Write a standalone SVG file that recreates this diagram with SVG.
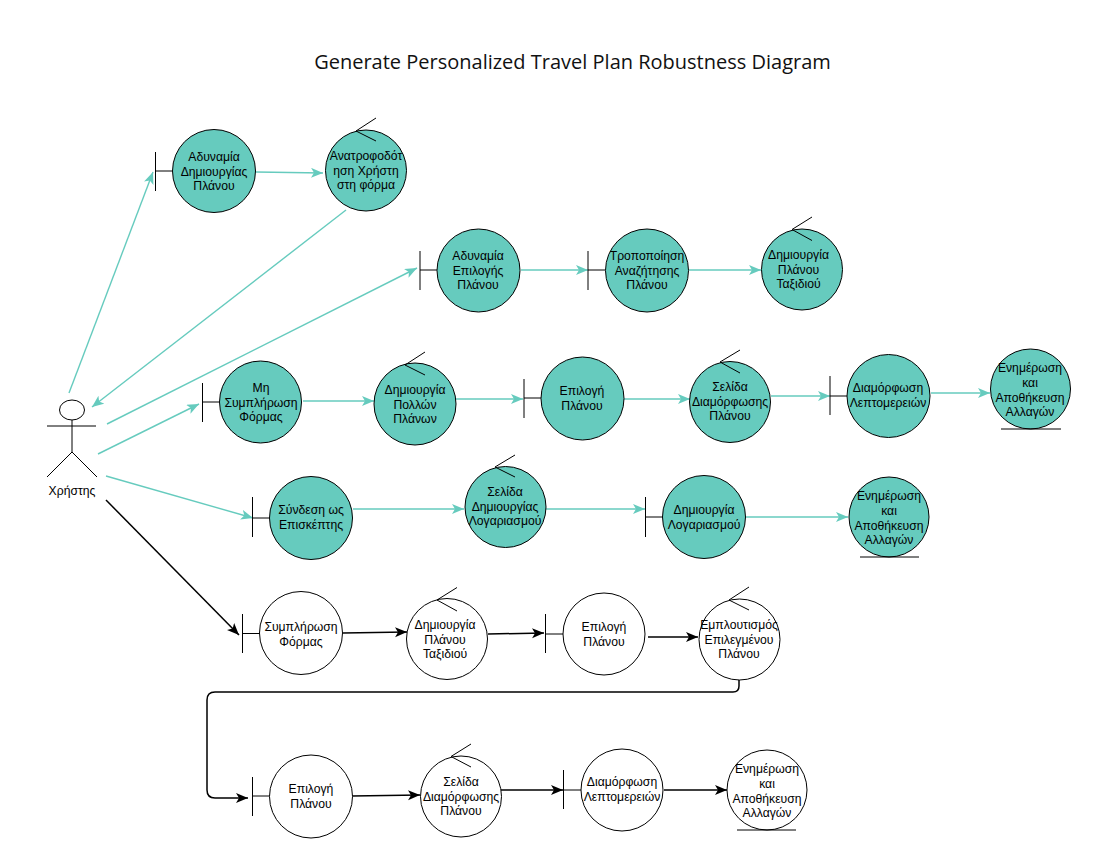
<svg xmlns="http://www.w3.org/2000/svg" width="1100" height="850" viewBox="0 0 1100 850">
<defs>
<style>
text{font-family:"Liberation Sans",Arial,sans-serif;font-size:12.2px;fill:#000;text-anchor:middle}
.title{font-family:"Open Sans","Noto Sans",sans-serif;font-size:20px;fill:#111}
.t{fill:#66cbbe;stroke:#000;stroke-width:1}
.w{fill:#fff;stroke:#000;stroke-width:1}
.m{stroke:#000;stroke-width:1;fill:none}
.ct{stroke:#66cbbe;stroke-width:1.4;fill:none;marker-end:url(#at)}
.cb{stroke:#000;stroke-width:1.5;fill:none;marker-end:url(#ab)}
</style>
<marker id="at" markerUnits="userSpaceOnUse" markerWidth="13" markerHeight="11" refX="12" refY="5" orient="auto"><path d="M12,5 L0,0 L3,5 L0,10 Z" fill="#66cbbe"/></marker>
<marker id="ab" markerUnits="userSpaceOnUse" markerWidth="13" markerHeight="11" refX="12" refY="5" orient="auto"><path d="M12,5 L0,0 L3,5 L0,10 Z" fill="#000"/></marker>
</defs>
<rect width="1100" height="850" fill="#fff"/>
<text class="title" x="572.500" y="69">Generate Personalized Travel Plan Robustness Diagram</text>
<g id="connectors">
<path class="ct" d="M69,393 L153,172"/>
<path class="ct" d="M346,210 L92,407"/>
<path class="ct" d="M107,424 L417,268"/>
<path class="ct" d="M98,454 L199,404"/>
<path class="ct" d="M106,476 L253,518"/>
<path class="ct" d="M256,172 L323,173"/>
<path class="ct" d="M521,270 L588,270"/>
<path class="ct" d="M689,270 L761,270"/>
<path class="ct" d="M303,401 L374,401"/>
<path class="ct" d="M456,399 L523,399"/>
<path class="ct" d="M624,399 L690,399"/>
<path class="ct" d="M771,396 L830,396"/>
<path class="ct" d="M931,393 L990,393"/>
<path class="ct" d="M353,509 L464,509"/>
<path class="ct" d="M546,509 L645,509"/>
<path class="ct" d="M746,517 L848,517"/>
<path class="cb" d="M106,500 L239,635"/>
<path class="cb" d="M343,633 L407,632"/>
<path class="cb" d="M488,634 L544,633"/>
<path class="cb" d="M648,637 L698,637"/>
<path class="cb" d="M739,680 L739,686 Q739,692 733,692 L215,692 Q207,692 207,700 L207,790 Q207,798 215,798 L248,798"/>
<path class="cb" d="M352,796 L420,795"/>
<path class="cb" d="M501,790 L563,790"/>
<path class="cb" d="M664,790 L727,790"/>
</g>
<g id="actor">
<ellipse class="m" cx="72" cy="410" rx="12.500" ry="10"/>
<path class="m" d="M47,426 H96 M72,420 V452 L47,477 M72,452 L97,477"/>
<text x="72" y="495">Χρήστης</text>
</g>
<g id="b1"><path class="m" d="M155.500,152 V191 M155.500,171 H172.500"/><circle class="t" cx="214" cy="171" r="41.500"/><text x="214" y="161">Αδυναμία<tspan x="214" dy="14.500">Δημιουργίας</tspan><tspan x="214" dy="14.500">Πλάνου</tspan></text></g>
<g id="c1"><circle class="t" cx="366" cy="170.500" r="40.500"/><path class="m" d="M376,118 L356,131 L376,141"/><text x="366" y="160">Ανατροφοδότ<tspan x="366" dy="14.500">ηση Χρήστη</tspan><tspan x="366" dy="14">στη φόρμα</tspan></text></g>
<g id="b2"><path class="m" d="M420,251 V290 M420,270 H437"/><circle class="t" cx="478.500" cy="270.500" r="41.500"/><text x="478" y="260">Αδυναμία<tspan x="478" dy="14.500">Επιλογής</tspan><tspan x="478" dy="14.500">Πλάνου</tspan></text></g>
<g id="b3"><path class="m" d="M588,251 V290 M588,270 H605"/><circle class="t" cx="647" cy="270.500" r="41.500"/><text x="647" y="260">Τροποποίηση<tspan x="647" dy="14.500">Αναζήτησης</tspan><tspan x="647" dy="14.500">Πλάνου</tspan></text></g>
<g id="c2"><circle class="t" cx="802" cy="269.500" r="40.500"/><path class="m" d="M812,217 L792,229.500 L812,240.500"/><text x="798.500" y="259">Δημιουργία<tspan x="798.500" dy="14.500">Πλάνου</tspan><tspan x="798.500" dy="14">Ταξιδιού</tspan></text></g>
<g id="b4"><path class="m" d="M202.500,383 V422 M202.500,402 H219.500"/><circle class="t" cx="260.500" cy="402" r="41"/><text x="261" y="392">Μη<tspan x="261" dy="14.500">Συμπλήρωση</tspan><tspan x="261" dy="14.500">Φόρμας</tspan></text></g>
<g id="c3"><circle class="t" cx="415" cy="404" r="41"/><path class="m" d="M425,352 L405,365 L425,375"/><text x="415" y="394">Δημιουργία<tspan x="415" dy="14.500">Πολλών</tspan><tspan x="415" dy="14">Πλάνων</tspan></text></g>
<g id="b5"><path class="m" d="M524,379 V418 M524,398 H541"/><circle class="t" cx="582.500" cy="398.500" r="41.500"/><text x="582" y="395">Επιλογή<tspan x="582" dy="15">Πλάνου</tspan></text></g>
<g id="c4"><circle class="t" cx="730" cy="402" r="40.500"/><path class="m" d="M740,350 L720,362 L740,373"/><text x="730" y="391">Σελίδα<tspan x="730" dy="15">Διαμόρφωσης</tspan><tspan x="730" dy="14">Πλάνου</tspan></text></g>
<g id="b6"><path class="m" d="M830,376 V415 M830,396 H847"/><circle class="t" cx="888.500" cy="396" r="41.500"/><text x="888" y="392">Διαμόρφωση<tspan x="888" dy="14.500">Λεπτομερειών</tspan></text></g>
<g id="e1"><circle class="t" cx="1030.500" cy="389" r="40"/><path class="m" d="M1001,429 H1061"/><text x="1030" y="372">Ενημέρωση<tspan x="1030" dy="15">και</tspan><tspan x="1030" dy="14.500">Αποθήκευση</tspan><tspan x="1030" dy="14">Αλλαγών</tspan></text></g>
<g id="b7"><path class="m" d="M252.500,497 V537 M252.500,518 H269.500"/><circle class="t" cx="311" cy="518" r="41.500"/><text x="311" y="514">Σύνδεση ως<tspan x="311" dy="15">Επισκέπτης</tspan></text></g>
<g id="c5"><circle class="t" cx="505.500" cy="507" r="40.500"/><path class="m" d="M515,455 L495,467 L515,477"/><text x="505" y="496">Σελίδα<tspan x="505" dy="15">Δημιουργίας</tspan><tspan x="505" dy="14">Λογαριασμού</tspan></text></g>
<g id="b8"><path class="m" d="M645.500,497 V537 M645.500,517 H663"/><circle class="t" cx="704" cy="517" r="41.500"/><text x="704" y="514">Δημιουργία<tspan x="704" dy="14.500">Λογαριασμού</tspan></text></g>
<g id="e2"><circle class="t" cx="889" cy="517" r="40"/><path class="m" d="M860,557 H919"/><text x="889" y="500">Ενημέρωση<tspan x="889" dy="15">και</tspan><tspan x="889" dy="14.500">Αποθήκευση</tspan><tspan x="889" dy="14">Αλλαγών</tspan></text></g>
<g id="b9"><path class="m" d="M242.500,614 V653 M242.500,633.500 H260"/><circle class="w" cx="301" cy="633" r="41.500"/><text x="301" y="631">Συμπλήρωση<tspan x="301" dy="14.500">Φόρμας</tspan></text></g>
<g id="c6"><circle class="w" cx="447" cy="639" r="40.500"/><path class="m" d="M457,587.500 L437,600 L457,611"/><text x="445" y="629">Δημιουργία<tspan x="445" dy="14.500">Πλάνου</tspan><tspan x="445" dy="14">Ταξιδιού</tspan></text></g>
<g id="b10"><path class="m" d="M545.500,614 V653 M545.500,634 H563"/><circle class="w" cx="604" cy="634" r="41"/><text x="604" y="631">Επιλογή<tspan x="604" dy="15">Πλάνου</tspan></text></g>
<g id="c7"><circle class="w" cx="739.500" cy="639.500" r="40.500"/><path class="m" d="M749,587 L729,600 L749,610"/><text x="739" y="629">Εμπλουτισμός<tspan x="739" dy="14.500">Επιλεγμένου</tspan><tspan x="739" dy="14.500">Πλάνου</tspan></text></g>
<g id="b11"><path class="m" d="M252.500,777 V816 M252.500,796 H270"/><circle class="w" cx="311" cy="796.500" r="41.500"/><text x="311" y="793">Επιλογή<tspan x="311" dy="15">Πλάνου</tspan></text></g>
<g id="c8"><circle class="w" cx="461" cy="796.500" r="40.500"/><path class="m" d="M471,744 L451,756.500 L471,767"/><text x="461" y="786">Σελίδα<tspan x="461" dy="15">Διαμόρφωσης</tspan><tspan x="461" dy="14">Πλάνου</tspan></text></g>
<g id="b12"><path class="m" d="M563.500,770 V809 M563.500,790 H581"/><circle class="w" cx="622" cy="790" r="41"/><text x="622" y="786">Διαμόρφωση<tspan x="622" dy="14.500">Λεπτομερειών</tspan></text></g>
<g id="e3"><circle class="w" cx="767" cy="790" r="40"/><path class="m" d="M737,830 H796"/><text x="767" y="773">Ενημέρωση<tspan x="767" dy="15">και</tspan><tspan x="767" dy="14.500">Αποθήκευση</tspan><tspan x="767" dy="14">Αλλαγών</tspan></text></g>
</svg>
